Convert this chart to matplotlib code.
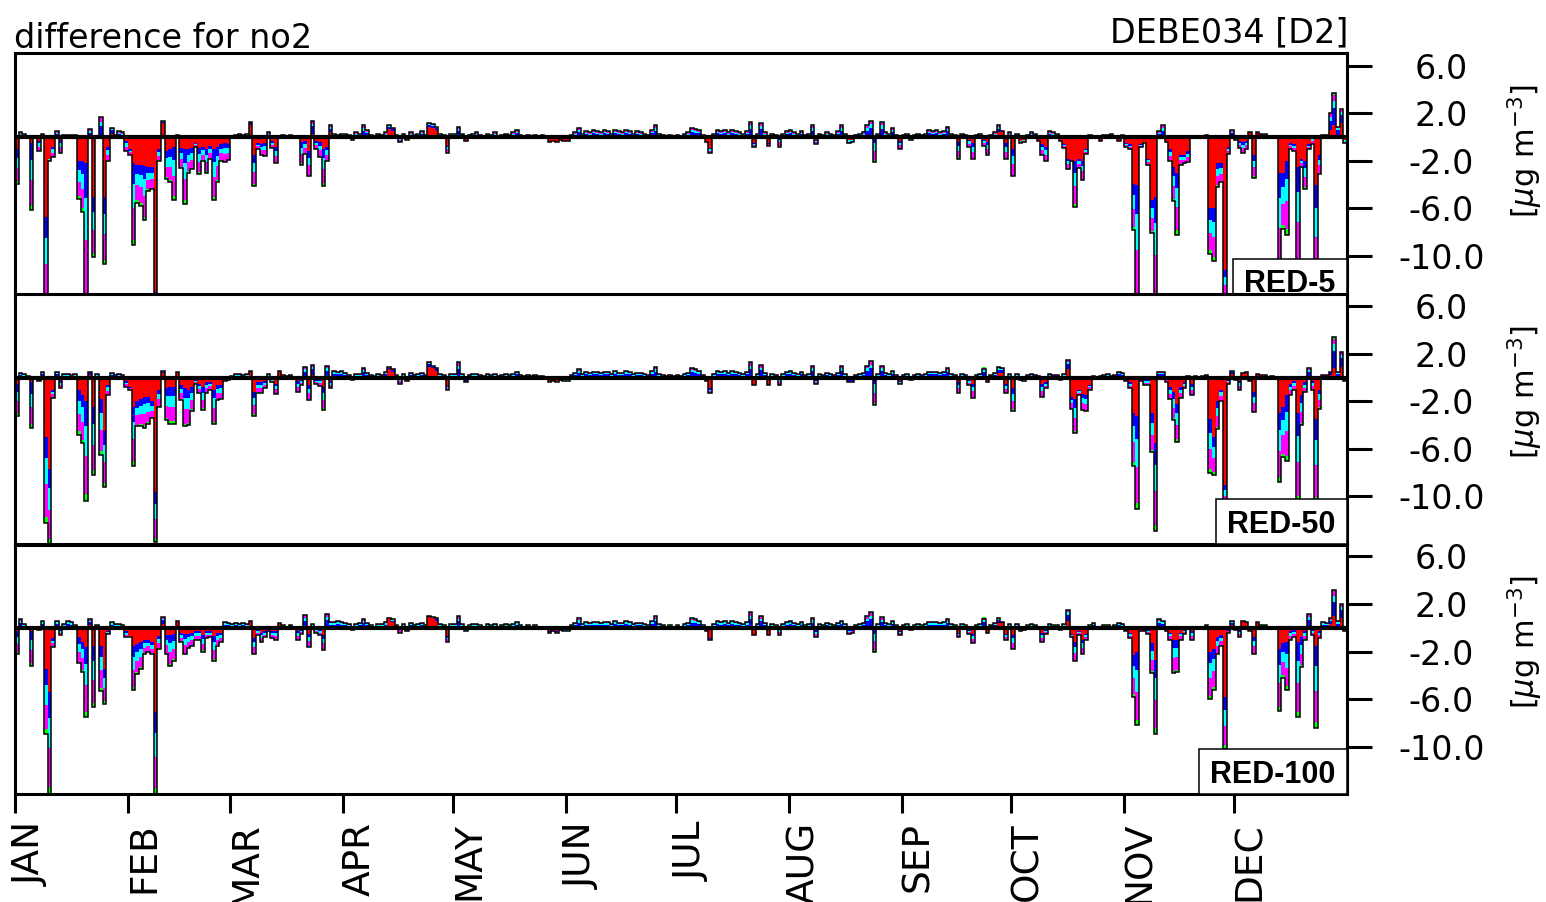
import numpy as np
import matplotlib
matplotlib.use("Agg")
import matplotlib.pyplot as plt
from matplotlib import transforms
from matplotlib.patches import Rectangle

# daily NO2 differences at DEBE034 [ug m-3], one value per day, month by month
months = ["JAN", "FEB", "MAR", "APR", "MAY", "JUN", "JUL", "AUG", "SEP", "OCT", "NOV", "DEC"]
month_start = [0, 31, 59, 90, 120, 151, 181, 212, 243, 273, 304, 334]
yticks = [6.0, 2.0, -2.0, -6.0, -10.0]
scenarios = ["RED-5", "RED-50", "RED-100"]

# ---- RED-5: net difference (black outline) ----
red5_net = (
    [-3.9, 0.4, 0.3, 0.1, -6.1, -0.1, -1.2, 0.3, -14.0, -2.0, -1.7, 0.5, -1.3, 0.2, 0.2, 0.2, 0.2, -5.2, -6.3, -14.0, 0.7, -10.1, 0.1, 1.7, -10.7, -2.0, 0.8, 0.2, 0.5, 0.4, -1.2]
    + [-1.5, -9.1, -5.5, -5.8, -7.0, -4.5, -4.4, -14.0, -2.0, 1.4, -3.5, -3.8, -5.3, 0.2, -2.6, -5.6, -3.0, -2.7, -0.8, -3.1, -2.0, -3.0, -1.8, -5.3, -3.8, -2.0, -2.1, -1.9]
    + [0.1, 0.2, 0.3, 0.2, 0.3, 1.3, -4.1, -1.0, -1.5, -1.6, 0.4, -0.9, -2.2, 0.1, 0.2, 0.1, 0.2, 0.0, 0.1, -2.3, -1.4, -3.3, 1.4, -1.0, -1.7, -4.1, -2.0, 1.0, 0.3, 0.2, 0.3]
    + [0.3, 0.2, -0.2, 0.4, 0.3, 1.0, 0.6, 0.2, 0.1, 0.3, 0.2, 0.4, 1.0, 0.8, 0.2, -0.4, 0.3, -0.2, 0.4, 0.2, 0.3, 0.5, 0.2, 1.2, 1.1, 0.9, 0.3, 0.2, -1.3, 0.3]
    + [0.3, 0.9, 0.3, -0.3, 0.2, 0.3, 0.4, 0.2, 0.1, 0.3, 0.2, 0.4, 0.1, 0.2, 0.3, 0.2, 0.4, 0.6, 0.2, 0.1, 0.2, 0.1, 0.2, 0.1, 0.2, 0.0, -0.4, -0.3, -0.4, -0.2, -0.3]
    + [-0.3, 0.2, 0.4, 0.8, 0.3, 0.5, 0.4, 0.6, 0.5, 0.4, 0.6, 0.5, 0.3, 0.6, 0.5, 0.4, 0.6, 0.5, 0.3, 0.5, 0.4, 0.3, 0.2, 0.6, 1.0, 0.3, 0.2, 0.1, 0.2, 0.1]
    + [0.2, 0.1, 0.3, 0.4, 0.8, 0.7, 0.6, 0.2, -0.4, -1.3, 0.3, 0.6, 0.5, 0.6, 0.4, 0.6, 0.5, 0.4, 0.3, 0.5, 1.3, -0.8, 0.3, 1.2, 0.4, -0.7, 0.3, 0.2, -0.8, 0.3, 0.5]
    + [0.6, 0.4, 0.3, 0.5, 0.2, 0.3, 1.0, -0.6, 0.3, 0.2, 0.4, 0.3, 0.2, 0.5, 1.0, 0.3, -0.5, -0.4, 0.2, 0.3, 0.4, 1.0, 1.4, -2.1, 0.3, 1.3, 0.4, 0.3, 0.8, 0.2, -1.0]
    + [0.2, 0.3, -0.2, 0.2, 0.3, 0.2, 0.3, 0.6, 0.5, 0.6, 0.4, 0.5, 0.9, 0.3, 0.2, -1.8, 0.3, 0.2, -0.8, -1.8, 0.2, 0.3, -0.7, -1.5, 0.2, 0.4, 1.0, 0.5, -1.8, 0.4]
    + [-3.3, 0.3, -0.5, -0.4, 0.2, 0.4, 0.3, -0.3, -1.5, -2.0, 0.5, 0.4, 0.3, -0.3, -0.9, -2.7, -2.0, -5.9, -2.6, -3.6, -1.4, 0.2, 0.0, 0.1, -0.3, 0.2, 0.2, 0.3, 0.1, -0.3, 0.2]
    + [-0.8, -1.0, -7.8, -14.0, -0.8, -0.5, -2.3, -8.1, -14.0, 0.5, 1.0, -0.4, -2.0, -5.4, -8.2, -2.3, -2.2, -2.1, 0.1, 0.0, 0.1, 0.0, 0.2, -9.8, -10.4, -4.2, -3.8, -13.5, -1.4, 0.6]
    + [-0.2, -0.9, -1.3, -1.0, 0.4, -3.4, 0.4, 0.3, 0.3, 0.0, 0.1, 0.0, -11.5, -7.7, -8.2, -1.0, -1.2, -11.0, -2.5, -4.4, -1.0, -0.6, -12.0, -3.1, 0.2, 0.2, 2.0, 3.7, 0.9, 2.4, -0.5]
)

# red contribution in Apr-Sep looks the same in all three runs
red_apr_sep = (
    [0, 0, -0.2, 0, 0, 0, 0, 0, 0, 0, 0, 0, 0.7, 0.5, 0, 0, 0, 0, 0, 0, 0, 0, 0, 0.9, 0.8, 0.6, 0, 0, -0.7, 0]
    + [0, 0, 0, -0.2, 0, 0, 0, 0, 0, 0, 0, 0, 0, 0, 0, 0, 0, 0, 0, 0, 0, 0, 0, 0, 0, 0, -0.3, -0.3, -0.3, -0.2, -0.2]
    + [-0.2, 0, 0, 0, 0, 0, 0, 0, 0, 0, 0, 0, 0, 0, 0, 0, 0, 0, 0, 0, 0, 0, 0, 0, 0, 0, 0, 0, 0, 0]
    + [0, 0, 0, 0, 0, 0, 0, 0, -0.3, -0.9, 0, 0, 0, 0, 0, 0, 0, 0, 0, 0, 0, -0.5, 0, 0, 0, -0.5, 0, 0, 0, 0, 0]
    + [0, 0, 0, 0, 0, 0, 0, -0.2, 0, 0, 0, 0, 0, 0, 0, 0, -0.2, -0.2, 0, 0, 0, 0, 0, 0, 0, 0, 0, 0, 0, 0, -0.3]
    + [0, 0, 0, 0, 0, 0, 0, 0, 0, 0, 0, 0, 0, 0, 0, -0.4, 0, 0, -0.2, -0.5, 0, 0, -0.2, -0.4, 0, 0, 0.4, 0.4, -0.5, 0]
)

red5_red = (
    [-1.0, 0, 0, 0, -0.5, 0, -0.3, 0, -6.7, -1.8, -0.8, 0, -0.2, 0, 0, 0, 0, -2.0, -2.0, -2.2, 0, -5.0, 0, 0, -5.0, -0.8, 0.3, 0, 0, 0, -0.3]
    + [-1.0, -2.2, -2.3, -2.3, -2.4, -2.5, -2.5, -13.0, -1.0, 1.2, -1.2, -1.0, -0.8, 0, -0.9, -1.0, -1.0, -0.9, -0.5, -0.9, -0.8, -1.0, -0.7, -1.0, -0.8, -0.6, -0.5, -0.6]
    + [0, 0, 0, 0, 0, 1.0, -1.5, -0.5, -0.6, -0.5, 0, -0.3, -0.8, 0, 0, 0, 0, 0, 0, -0.4, -0.3, -1.2, 0.3, -0.3, -0.4, -1.0, -0.8, 0.4, 0, 0, 0]
    + red_apr_sep
    + [-1.0, 0, -0.3, -0.2, 0, 0, 0, -0.2, -0.6, -0.8, 0, 0, 0, -0.2, -0.6, -1.8, -1.9, -2.0, -1.8, -2.0, -1.0, 0, 0, 0, -0.2, 0, 0, 0, 0, -0.2, 0]
    + [-0.5, -0.6, -3.9, -4.0, -0.6, -0.4, -1.8, -5.3, -5.0, 0, 0, -0.3, -1.0, -2.5, -3.0, -1.5, -1.5, -1.2, 0, 0, 0, 0, 0, -6.0, -6.0, -2.2, -2.2, -11.2, -0.8, 0]
    + [0, -0.3, -0.4, -0.3, 0.4, -1.5, 0.4, 0.3, 0, 0, 0, 0, -3.0, -3.0, -2.0, -0.5, -0.6, -2.5, -1.8, -2.0, -0.6, 0, -4.0, -1.5, 0, 0, 0.6, 1.0, 0.2, 1.2, -0.2]
)

# ---- RED-50 ----
red50_net = (
    [-3.2, 0.4, 0.3, 0.1, -4.2, -0.1, -0.3, 0.5, -12.2, -14.0, -1.7, 0.5, -0.9, 0.3, 0.3, 0.2, 0.3, -4.8, -5.5, -10.4, 0.5, -8.2, 0.3, -6.5, -9.2, -1.5, 0.4, 0.2, 0.3, 0.2, -0.8]
    + [-1.0, -7.4, -4.1, -4.1, -4.2, -3.9, -3.4, -13.8, -2.5, 0.6, -3.6, -3.9, -3.9, 0.5, -1.9, -4.1, -4.0, -2.8, -0.5, -1.3, -2.7, -1.3, -1.0, -3.9, -1.9, -1.8, -0.3, -0.2]
    + [0.1, 0.3, 0.3, 0.2, 0.3, 0.6, -3.2, -1.3, -1.3, -0.9, 0.3, -0.4, -1.4, 0.6, 0.2, 0.1, 0.2, 0.0, -1.2, -0.6, 0.9, -1.9, 1.1, -0.5, -0.7, -2.7, 1.0, -0.9, 0.6, 0.5, 0.6]
    + [0.4, 0.2, -0.2, 0.3, 0.3, 0.8, 0.4, 0.2, 0.1, 0.3, 0.2, 0.5, 0.9, 0.7, 0.2, -0.5, 0.3, -0.3, 0.4, 0.2, 0.3, 0.4, 0.2, 1.3, 1.0, 0.8, 0.3, 0.2, -1.0, 0.3]
    + [0.3, 1.3, 0.3, -0.4, 0.2, 0.3, 0.3, 0.2, 0.1, 0.3, 0.2, 0.3, 0.1, 0.2, 0.3, 0.2, 0.3, 0.5, 0.2, 0.1, 0.2, 0.1, 0.2, 0.1, 0.1, 0.0, -0.4, -0.3, -0.4, -0.2, -0.3]
    + [-0.3, 0.2, 0.4, 0.7, 0.3, 0.5, 0.4, 0.5, 0.5, 0.4, 0.5, 0.5, 0.3, 0.6, 0.4, 0.4, 0.6, 0.5, 0.3, 0.4, 0.4, 0.3, 0.2, 0.6, 0.9, 0.3, 0.2, 0.1, 0.2, 0.1]
    + [0.2, 0.1, 0.3, 0.4, 0.8, 0.7, 0.6, 0.2, -0.3, -1.3, 0.3, 0.6, 0.5, 0.6, 0.4, 0.6, 0.5, 0.4, 0.3, 0.5, 1.3, -0.6, 0.3, 1.1, 0.4, -0.6, 0.3, 0.2, -0.6, 0.3, 0.5]
    + [0.6, 0.4, 0.3, 0.5, 0.2, 0.3, 1.0, -0.5, 0.3, 0.2, 0.4, 0.3, 0.2, 0.4, 1.0, 0.3, -0.4, -0.4, 0.2, 0.3, 0.4, 1.0, 1.4, -2.3, 0.3, 1.0, 0.4, 0.3, 0.6, 0.2, -0.5]
    + [0.2, 0.3, -0.2, 0.2, 0.3, 0.2, 0.3, 0.5, 0.5, 0.5, 0.4, 0.5, 0.8, 0.3, 0.2, -1.3, 0.3, 0.2, -0.6, -1.7, 0.2, 0.3, 0.7, -0.4, 0.2, 0.4, 0.9, 0.8, -1.3, 0.3]
    + [-2.8, 0.3, -0.2, -0.3, 0.2, 0.3, 0.2, 0.1, -1.6, -0.9, 0.3, 0.2, 0.2, -0.2, 0.3, 1.5, -2.6, -4.7, -1.5, -2.7, -2.8, -1.0, 0.1, 0.0, 0.1, 0.2, 0.3, 0.1, 0.2, 0.5, 0.4]
    + [-0.3, -0.9, -7.4, -11.1, -0.3, -0.6, -0.6, -6.3, -12.9, 0.5, 0.5, -0.4, -1.8, -3.6, -5.4, -1.7, -0.9, 0.1, -1.5, 0.1, 0.0, 0.1, 0.2, -8.0, -8.2, -4.3, -2.0, -10.8, -0.5, 0.6]
    + [-0.2, -1.0, 0.4, 0.5, -0.3, -2.9, 0.3, 0.2, 0.2, 0.0, 0.1, 0.0, -8.8, -6.7, -7.0, -1.5, -1.0, -10.5, -4.0, -1.2, 0.8, -1.0, -10.5, -2.6, 0.2, 0.2, 0.5, 3.4, 0.5, 2.2, -0.3]
)
red50_red = (
    [-0.5, 0, 0, 0, -0.4, 0, 0, 0, -5.0, -7.7, -1.0, 0, -0.3, 0, 0, 0, 0, -1.0, -1.5, -2.0, 0.2, -2.5, 0, -1.8, -4.5, -0.6, 0, 0, 0, 0, -0.3]
    + [-0.8, -2.5, -2.0, -1.8, -1.6, -1.6, -2.0, -9.6, -1.0, 0.4, -0.9, -0.8, -0.8, 0.4, -0.6, -0.9, -1.0, -0.8, -0.2, -0.5, -0.8, -0.4, -0.4, -1.0, -0.6, -0.6, 0, 0]
    + [0, 0, 0, 0, 0, 0.5, -1.2, -0.4, -0.4, -0.3, 0, -0.1, -0.5, 0.5, 0, 0, 0, 0, -0.3, -0.2, 0, -0.6, 0.2, -0.2, -0.2, -0.8, 0, -0.3, 0, 0, 0]
    + red_apr_sep
    + [-0.9, 0, 0, -0.2, 0, 0, 0, 0, -0.5, -0.4, 0, 0, 0, -0.2, 0, 0.7, -1.6, -1.8, -1.0, -1.4, -1.5, -0.6, 0, 0, 0, 0, 0, 0, 0, 0, 0]
    + [0, -0.4, -3.0, -3.2, 0, -0.2, -0.2, -3.0, -5.5, 0, 0, 0, -0.8, -1.2, -2.2, -0.8, -0.4, 0, -0.5, 0, 0, 0, 0, -3.5, -5.0, -2.0, -1.0, -9.0, -0.2, 0.3]
    + [0, -0.3, 0.4, 0.4, 0, -1.2, 0.3, 0, 0, 0, 0, 0, -3.0, -2.5, -1.5, -0.5, -0.3, -3.0, -1.5, -0.4, 0, -0.3, -3.5, -1.0, 0, 0, 0.2, 0.8, 0, 0.9, 0]
)

# ---- RED-100 ----
red100_net = (
    [-2.2, 0.7, 0.3, 0.1, -3.2, -0.1, -0.2, 0.6, -8.9, -14.0, -1.6, 0.6, -0.6, 0.3, 0.6, 0.5, 0.2, -3.0, -3.7, -7.5, 0.7, -6.7, 0.2, -5.3, -6.4, -0.5, 0.5, 0.3, 0.3, 0.2, -0.8]
    + [-0.8, -5.2, -3.9, -3.5, -2.2, -2.0, -2.2, -14.0, -1.8, 0.9, -2.2, -3.2, -2.8, 0.6, -1.2, -2.2, -1.7, -1.5, -1.0, -1.0, -2.0, -0.9, -0.8, -2.8, -1.5, -1.2, 0.5, 0.4]
    + [0.3, 0.4, 0.3, 0.4, 0.3, 0.6, -2.2, -0.6, -1.2, -0.8, -0.3, -0.9, -1.0, 0.4, 0.2, 0.1, 0.2, 0.1, -1.0, -0.5, 1.1, -1.6, 0.3, -0.4, -0.6, -1.9, 1.2, 0.5, 0.5, 0.6, 0.5]
    + [0.4, 0.3, -0.2, 0.3, 0.4, 0.7, 0.4, 0.2, 0.1, 0.3, 0.3, 0.5, 0.8, 0.7, 0.2, -0.4, 0.3, -0.3, 0.4, 0.2, 0.3, 0.4, 0.2, 1.0, 0.9, 0.8, 0.3, 0.2, -1.2, 0.3]
    + [0.3, 1.0, 0.3, -0.3, 0.2, 0.3, 0.3, 0.2, 0.1, 0.3, 0.2, 0.3, 0.1, 0.2, 0.3, 0.2, 0.3, 0.5, 0.2, 0.1, 0.2, 0.1, 0.2, 0.1, 0.1, 0.0, -0.4, -0.3, -0.4, -0.2, -0.3]
    + [-0.3, 0.2, 0.4, 0.8, 0.3, 0.5, 0.4, 0.5, 0.5, 0.4, 0.5, 0.5, 0.3, 0.6, 0.4, 0.4, 0.6, 0.5, 0.3, 0.4, 0.4, 0.3, 0.2, 0.6, 1.0, 0.3, 0.2, 0.1, 0.2, 0.1]
    + [0.2, 0.1, 0.3, 0.4, 0.8, 0.7, 0.6, 0.2, -0.3, -1.0, 0.3, 0.6, 0.5, 0.6, 0.4, 0.6, 0.5, 0.4, 0.3, 0.5, 1.3, -0.6, 0.3, 1.0, 0.4, -0.6, 0.3, 0.2, -0.6, 0.3, 0.5]
    + [0.6, 0.4, 0.3, 0.5, 0.2, 0.3, 0.8, -0.8, 0.3, 0.2, 0.4, 0.3, 0.2, 0.4, 0.6, 0.3, -0.5, -0.4, 0.2, 0.3, 0.4, 1.0, 1.3, -2.0, 0.3, 0.9, 0.4, 0.3, 0.6, 0.2, -0.6]
    + [0.2, 0.3, -0.2, 0.2, 0.3, 0.2, 0.3, 0.5, 0.5, 0.5, 0.4, 0.5, 0.7, 0.3, 0.2, -0.8, 0.3, 0.2, -0.5, -1.3, 0.2, 0.3, 0.7, -0.4, 0.2, 0.4, 0.8, 0.5, -1.0, 0.3]
    + [-1.8, 0.3, -0.3, -0.2, 0.2, 0.3, 0.2, 0.1, -1.2, -0.5, 0.3, 0.2, 0.2, -0.2, 0.3, 1.5, -0.8, -2.8, -0.6, -2.2, -1.0, 0.2, 0.4, 0.1, 0.1, 0.2, 0.2, 0.1, 0.2, 0.4, 0.3]
    + [-0.3, -0.9, -5.8, -8.2, -0.3, -0.3, -0.5, -3.8, -8.9, 0.7, 0.6, -0.3, -1.0, -3.8, -3.7, -1.0, -0.5, 0.1, -1.0, 0.1, 0.0, 0.1, 0.2, -6.0, -5.2, -2.2, -1.5, -10.2, -0.4, 0.6]
    + [-0.2, -0.8, 0.6, 0.5, -0.3, -2.2, 0.5, 0.2, 0.2, 0.0, 0.1, 0.0, -7.0, -4.2, -5.2, -1.0, -0.8, -7.5, -3.3, -1.0, 1.2, -0.6, -8.4, -0.9, 0.5, 0.4, 0.8, 3.2, 0.6, 2.0, -0.3]
)
red100_red = (
    [-0.3, 0, 0, 0, -0.3, 0, 0, 0, -3.5, -5.4, -0.9, 0, -0.2, 0, 0, 0, 0, -0.8, -1.2, -1.6, 0.2, -1.5, 0, -1.5, -3.5, -0.3, 0, 0, 0, 0, -0.3]
    + [-0.7, -1.5, -1.4, -1.2, -1.0, -1.0, -1.2, -7.1, -0.7, 0.3, -0.6, -0.6, -0.5, 0.5, -0.4, -0.5, -0.5, -0.4, -0.3, -0.3, -0.6, -0.3, -0.3, -0.7, -0.4, -0.4, 0, 0]
    + [0, 0, 0, 0, 0, 0.5, -0.9, -0.2, -0.4, -0.3, 0, -0.3, -0.3, 0.3, 0, 0, 0, 0, -0.3, -0.2, 0, -0.5, 0, -0.1, -0.2, -0.6, 0, 0, 0, 0, 0]
    + red_apr_sep
    + [-0.6, 0, -0.2, -0.1, 0, 0, 0, 0, -0.4, -0.2, 0, 0, 0, -0.1, 0, 0.6, -0.5, -1.2, -0.3, -1.0, -0.5, 0, 0, 0, 0, 0, 0, 0, 0, 0, 0]
    + [0, -0.4, -2.3, -2.0, 0, 0, -0.2, -1.3, -2.7, 0, 0, 0, -0.4, -1.0, -1.0, -0.4, -0.2, 0, -0.3, 0, 0, 0, 0, -2.0, -1.8, -0.8, -0.6, -5.8, -0.2, 0.2]
    + [0, -0.2, 0.6, 0.4, 0, -0.8, 0.5, 0, 0, 0, 0, 0, -1.8, -1.3, -1.2, -0.3, -0.2, -1.2, -0.8, -0.3, 0, -0.2, -1.5, -0.3, 0, 0, 0.3, 1.0, 0, 0.8, 0]
)

# stack colours from the zero line outwards: red, blue, cyan, magenta, green
colors = ["#ff0000", "#0000ff", "#00ffff", "#ff00ff", "#00ff00"]
# how the non-red rest of a day is shared between blue, cyan, magenta, green
neg_share = [0.25, 0.30, 0.38, 0.07]
pos_share = [0.55, 0.22, 0.17, 0.06]


def split(net, red):
    net = np.asarray(net, dtype=float)
    red = np.asarray(red, dtype=float)
    rest = net - red
    share = np.where(rest[:, None] < 0, neg_share, pos_share)
    return [red] + [rest * share[:, k] for k in range(4)]


def draw_panel(ax, net, red):
    days = np.arange(len(net))
    up_base = np.zeros(len(net))
    dn_base = np.zeros(len(net))
    for vals, c in zip(split(net, red), colors):
        up = np.clip(vals, 0, None)
        dn = np.clip(vals, None, 0)
        ax.bar(days, up, width=1.0, bottom=up_base, align="edge", color=c, linewidth=0, antialiased=False)
        ax.bar(days, dn, width=1.0, bottom=dn_base, align="edge", color=c, linewidth=0, antialiased=False)
        up_base += up
        dn_base += dn
    ax.stairs(net, np.arange(len(net) + 1), baseline=0, color="black", lw=1.1, zorder=3)
    ax.axhline(0, color="black", lw=3, zorder=4)


W, H = 1546, 902
fig = plt.figure(figsize=(W / 100, H / 100), dpi=100)

# top, bottom (pixels) and upper y limit of each panel; the first is partly under the second
panel_px = [(52.9, 303.5, 7.1), (294.5, 543.9, 7.0), (544.6, 794.2, 7.0)]
data = [(red5_net, red5_red), (red50_net, red50_red), (red100_net, red100_red)]

axes = []
for (top, bot, ymax), (net, red) in zip(panel_px, data):
    assert len(net) == 365 and len(red) == 365
    ax = fig.add_axes([15 / W, 1 - bot / H, 1332 / W, (bot - top) / H])
    ax.set_facecolor("white")
    draw_panel(ax, net, red)
    ax.set_xlim(0, 365)
    ax.set_ylim(-14, ymax)
    for s in ax.spines.values():
        s.set_linewidth(2.2)
        s.set_zorder(5)
    ax.yaxis.tick_right()
    ax.set_yticks(yticks, labels=[f"{v:.1f}" for v in yticks])
    ax.tick_params(axis="y", direction="out", length=18, width=2.2, labelsize=24, pad=50)
    for t in ax.get_yticklabels():
        t.set_horizontalalignment("center")
    ax.tick_params(axis="x", bottom=False, labelbottom=False)
    ax.text(1.1336, -1.2, r"[$\mu$g m$^{-3}$]", rotation=90, ha="center", va="center", fontsize=22,
            transform=transforms.blended_transform_factory(ax.transAxes, ax.transData))
    axes.append(ax)

# scenario label boxes in the lower right corner
renderer = fig.canvas.get_renderer()
for ax, name in zip(axes, scenarios):
    lab = ax.text(1, 0, name, ha="right", va="baseline", fontsize=22, fontweight="bold",
                  family="Liberation Sans", zorder=7,
                  transform=transforms.offset_copy(ax.transAxes, fig=fig, x=-12, y=11, units="dots"))
    tb = lab.get_window_extent(renderer)
    ab = ax.get_window_extent(renderer)
    x0 = tb.x0 - 11
    ax.add_patch(Rectangle((x0, ab.y0), ab.x1 - x0, 45, transform=transforms.IdentityTransform(),
                           facecolor="white", edgecolor="black", lw=1.1, zorder=6, clip_on=False))

# months along the bottom panel
ax3 = axes[-1]
ax3.set_xticks(month_start)
ax3.tick_params(axis="x", bottom=True, direction="out", length=14, width=2.2, labelbottom=False)
for d, m in zip(month_start, months):
    ax3.annotate(m, xy=(d, 0), xycoords=("data", "axes fraction"), xytext=(11.5, -20),
                 textcoords="offset points", rotation=90, ha="center", va="top", fontsize=27)

fig.text(14 / W, 1 - 48 / H, "difference for no2", ha="left", va="baseline", fontsize=24)
fig.text(1348 / W, 1 - 42 / H, "DEBE034 [D2]", ha="right", va="baseline", fontsize=24)

fig.savefig("out.png", dpi=100, facecolor="white")
